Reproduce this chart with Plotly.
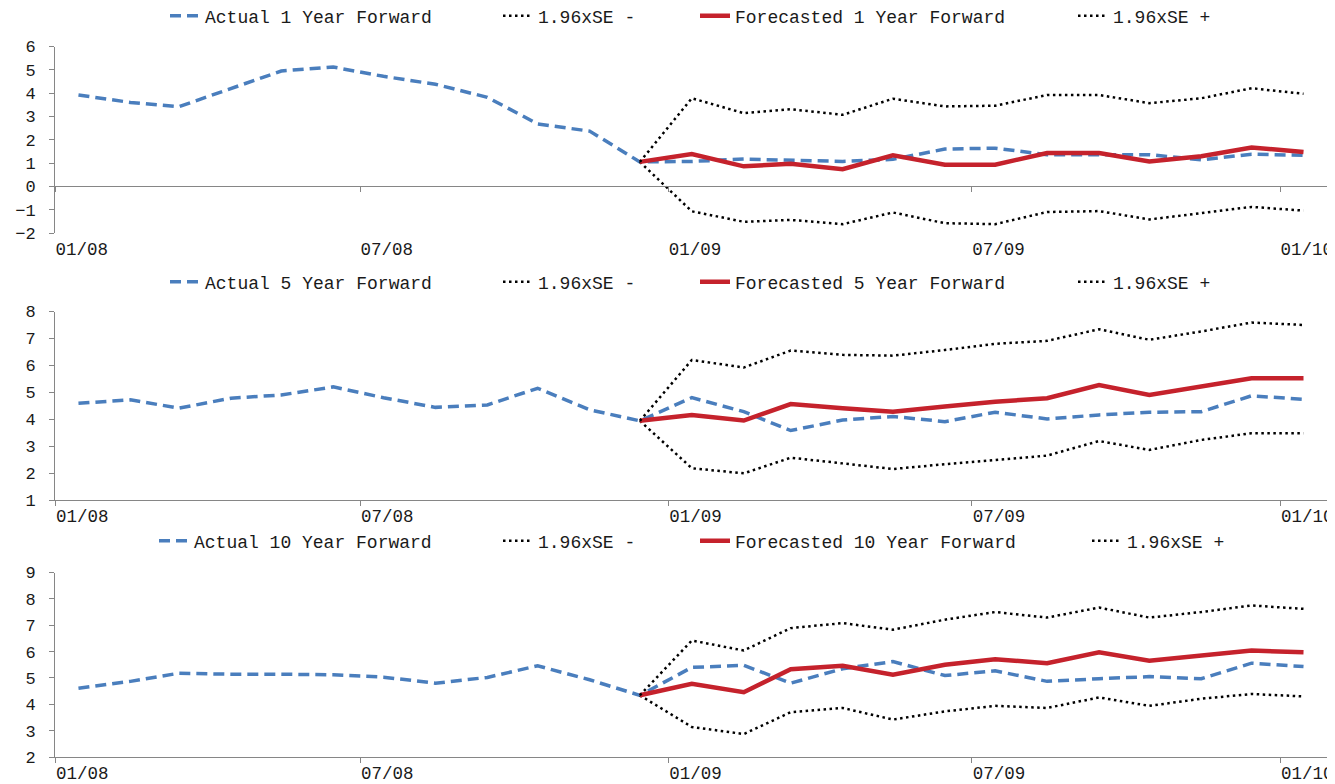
import plotly.graph_objects as go

# ---------------- data ----------------
months = ["2008-01-15", "2008-02-15", "2008-03-15", "2008-04-15", "2008-05-15", "2008-06-15",
          "2008-07-15", "2008-08-15", "2008-09-15", "2008-10-15", "2008-11-15", "2008-12-15",
          "2009-01-15", "2009-02-15", "2009-03-15", "2009-04-15", "2009-05-15", "2009-06-15",
          "2009-07-15", "2009-08-15", "2009-09-15", "2009-10-15", "2009-11-15", "2009-12-15",
          "2010-01-15"]
fc_months = months[11:]

actual_1y = [3.92, 3.6, 3.42, 4.2, 4.95, 5.12, 4.72, 4.38, 3.82, 2.68, 2.37, 1.05,
             1.07, 1.17, 1.13, 1.07, 1.16, 1.6, 1.64, 1.36, 1.36, 1.36, 1.14, 1.38, 1.33]
fc_1y = [1.05, 1.39, 0.86, 0.97, 0.74, 1.33, 0.93, 0.93, 1.43, 1.43, 1.07, 1.29, 1.67, 1.47]
lo_1y = [1.05, -1.07, -1.52, -1.44, -1.62, -1.12, -1.58, -1.62, -1.1, -1.06, -1.42, -1.16, -0.88, -1.04]
hi_1y = [1.05, 3.78, 3.14, 3.31, 3.07, 3.76, 3.43, 3.46, 3.92, 3.92, 3.57, 3.78, 4.21, 3.97]

actual_5y = [4.59, 4.72, 4.41, 4.78, 4.9, 5.2, 4.8, 4.44, 4.53, 5.15, 4.35, 3.94,
             4.8, 4.28, 3.58, 3.97, 4.1, 3.91, 4.26, 4.01, 4.16, 4.26, 4.28, 4.87, 4.74]
fc_5y = [3.94, 4.16, 3.95, 4.56, 4.41, 4.28, 4.47, 4.65, 4.78, 5.27, 4.9, 5.21, 5.52, 5.52]
lo_5y = [3.94, 2.18, 1.99, 2.57, 2.36, 2.15, 2.33, 2.49, 2.65, 3.19, 2.86, 3.23, 3.48, 3.48]
hi_5y = [3.94, 6.2, 5.92, 6.55, 6.39, 6.36, 6.57, 6.8, 6.91, 7.34, 6.95, 7.26, 7.59, 7.5]

actual_10y = [4.61, 4.87, 5.18, 5.14, 5.14, 5.12, 5.03, 4.8, 5.02, 5.46, 4.93, 4.34,
              5.4, 5.48, 4.8, 5.35, 5.62, 5.09, 5.27, 4.87, 4.97, 5.05, 4.97, 5.56, 5.43]
fc_10y = [4.34, 4.78, 4.46, 5.33, 5.46, 5.12, 5.5, 5.71, 5.56, 5.97, 5.65, 5.86, 6.04, 5.97]
lo_10y = [4.34, 3.14, 2.87, 3.7, 3.86, 3.42, 3.73, 3.94, 3.86, 4.26, 3.94, 4.21, 4.39, 4.3]
hi_10y = [4.34, 6.42, 6.04, 6.89, 7.08, 6.83, 7.21, 7.5, 7.29, 7.67, 7.29, 7.5, 7.75, 7.62]

maturities = ["1", "5", "10"]
actual_series = [actual_1y, actual_5y, actual_10y]
forecast_series = [fc_1y, fc_5y, fc_10y]
lower_series = [lo_1y, lo_5y, lo_10y]
upper_series = [hi_1y, hi_5y, hi_10y]
y_ranges = [[-2, 6], [1, 8], [2, 9]]

# ---------------- style / layout ----------------
FONT = "Liberation Mono"
BLUE = "#4A7EBD"
RED = "#C5222C"
AXIS = "#868686"
TXT = "#1a1a1a"
OFF = 8                      # default page margin around the figure div
W, H = 1335 - OFF, 784 - OFF
ML = 55 - OFF
MR = W - (1332 - OFF)
PW = W - ML - MR
x_range = ["2008-01-01", "2010-02-01"]

def py(px):
    return 1 - (px - OFF) / H

def pxx(px):
    return (px - OFF - ML) / PW

domains = [[py(233), py(46.5)], [py(500), py(311.5)], [py(757), py(572.5)]]
legend_rows = [16, 282, 541]
# legend text start positions (page px) per panel, per item
legend_text_x = [[205, 538, 735, 1113], [205, 538, 735, 1113], [194, 538, 735, 1127]]
TEXT_OFFSET = 40  # distance from legend box left edge to its text

fig = go.Figure()

leg_layout = {}
leg_idx = 0
for i in range(3):
    n = i + 1
    xa = "x" if n == 1 else f"x{n}"
    ya = "y" if n == 1 else f"y{n}"
    yr = maturities[i]
    specs = [
        (months, actual_series[i], f"Actual {yr} Year Forward", dict(color=BLUE, width=3.5, dash="11px,6px")),
        (fc_months, lower_series[i], "1.96xSE -", dict(color="black", width=2.5, dash="2.5px,3.5px")),
        (fc_months, forecast_series[i], f"Forecasted {yr} Year Forward", dict(color=RED, width=4.5)),
        (fc_months, upper_series[i], "1.96xSE +", dict(color="black", width=2.5, dash="2.5px,3.5px")),
    ]
    for j, (xs, ys, name, line) in enumerate(specs):
        leg_idx += 1
        lg = "legend" if leg_idx == 1 else f"legend{leg_idx}"
        fig.add_trace(go.Scatter(x=xs, y=ys, mode="lines", name=name, line=line,
                                 xaxis=xa, yaxis=ya, legend=lg))
        leg_layout[lg] = dict(orientation="h", x=pxx(legend_text_x[i][j] - TEXT_OFFSET), xanchor="left",
                              y=py(legend_rows[i]), yanchor="middle",
                              font=dict(family=FONT, size=18, color=TXT),
                              bgcolor="rgba(0,0,0,0)", borderwidth=0)

# helper (empty) trace so that the label axis of panel 1 is drawn
fig.add_trace(go.Scatter(x=months[:1], y=[None], xaxis="x4", yaxis="y", mode="lines",
                         showlegend=False, hoverinfo="skip"))

xfont = dict(family=FONT, size=17.5, color=TXT)
yfont = dict(family=FONT, size=17, color=TXT)
common_x = dict(type="date", range=x_range, tick0="2008-01-01", dtick="M6", tickformat="%m/%y",
                showgrid=False, zeroline=False, ticklabelposition="outside right",
                ticklabeloverflow="allow",
                tickfont=xfont, linecolor=AXIS, tickcolor=AXIS, ticklen=5, domain=[0, 1],
                automargin=False)
common_y = dict(showgrid=False, showline=True, linecolor=AXIS, ticks="outside", ticklen=5,
                tickcolor=AXIS, tickfont=yfont, dtick=1, zeroline=False, ticklabelstandoff=10,
                automargin=False)

zero_pos = domains[0][0] + (0 - y_ranges[0][0]) / (y_ranges[0][1] - y_ranges[0][0]) * (domains[0][1] - domains[0][0])
fig.update_layout(
    xaxis=dict(common_x, anchor="free", position=zero_pos, showline=True, ticks="outside",
               showticklabels=False),
    xaxis4=dict(common_x, overlaying="x", anchor="y", showline=False, ticks="outside",
                tickcolor="rgba(0,0,0,0)", showticklabels=True),
    yaxis=dict(common_y, domain=domains[0], range=y_ranges[0], anchor="x"),
    xaxis2=dict(common_x, anchor="y2", showline=True, ticks="outside"),
    yaxis2=dict(common_y, domain=domains[1], range=y_ranges[1], anchor="x2"),
    xaxis3=dict(common_x, anchor="y3", showline=True, ticks="outside"),
    yaxis3=dict(common_y, domain=domains[2], range=y_ranges[2], anchor="x3"),
)
fig.update_layout(**leg_layout)
fig.update_layout(
    width=W, height=H,
    margin=dict(l=ML, r=MR, t=0, b=0, autoexpand=False),
    paper_bgcolor="white", plot_bgcolor="white",
    showlegend=True,
)

fig.write_html("out.html")
